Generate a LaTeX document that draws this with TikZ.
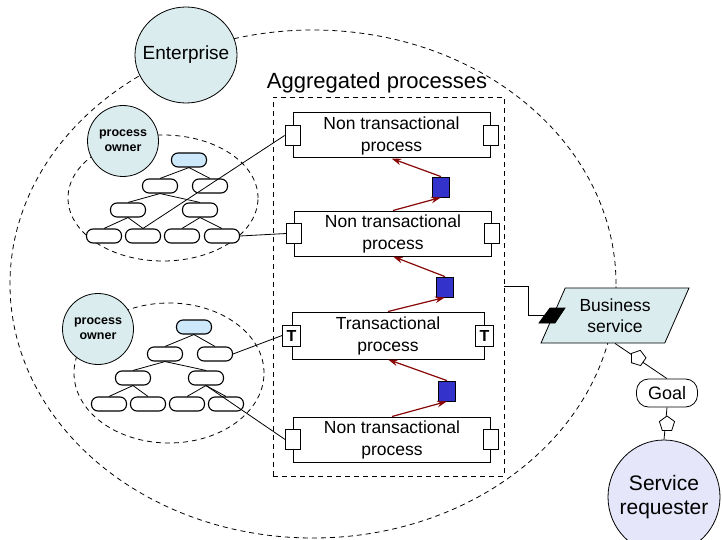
\documentclass[tikz,border=0pt]{standalone}
\usepackage{fontspec}
\setmainfont{Liberation Sans}
\usetikzlibrary{shapes.geometric,arrows.meta}
\definecolor{tealfill}{RGB}{218,236,238}
\definecolor{lavfill}{RGB}{230,230,250}
\definecolor{rootfill}{RGB}{204,232,250}
\definecolor{portblue}{RGB}{51,51,204}
\definecolor{flowred}{RGB}{135,5,5}

\tikzset{
  procbox/.style={draw, line width=1pt, minimum width=197pt, minimum height=45pt, align=center, inner sep=0pt, font=\fontsize{17.5}{22}\selectfont},
  port/.style={draw, fill=white, minimum width=15pt, minimum height=20pt, inner sep=0pt},
  tport/.style={port, minimum width=18pt, minimum height=21pt, font=\fontsize{16}{16}\selectfont\bfseries},
  sqr/.style={draw, fill=portblue, minimum width=17pt, minimum height=20pt, inner sep=0pt},
  leaf/.style={draw, fill=white, rounded corners=6.5pt, minimum width=35pt, minimum height=14pt, inner sep=0pt, line width=1.1pt},
  rootleaf/.style={leaf, fill=rootfill},
  owner/.style={circle, draw, fill=tealfill, minimum size=71pt, inner sep=0pt, align=center, font=\fontsize{12.5}{15}\selectfont\bfseries},
  flow/.style={draw=flowred, line width=1.2pt, -{Stealth[length=10pt,width=6.5pt]}},
  house/.style={regular polygon, regular polygon sides=5, draw, fill=white, minimum size=16pt, inner sep=0pt},
  zone/.style={dash pattern=on 5pt off 4pt},
}

\begin{document}
\begin{tikzpicture}[x=1pt, y=-1pt, line width=0.8pt]
\useasboundingbox (0,0) rectangle (722,540);
\clip (0,0) rectangle (722,540);

% enterprise
\draw[zone] (313,284) ellipse [x radius=303pt, y radius=254pt];
\node[ellipse, draw, fill=tealfill, minimum width=102pt, minimum height=96pt,
  label={[font=\fontsize{19}{22}\selectfont]center:Enterprise}] (ent) at (186,55) {};

% aggregated processes
\node[font=\fontsize{22}{26}\selectfont] (agglabel) at (377,83) {Aggregated processes};
\node[draw, zone, minimum width=231pt, minimum height=379pt] (agg) at (388.5,286.5) {};

\node[procbox] (b1) at (391.5,135.5) {Non transactional\\process};
\node[procbox] (b2) at (393,233.5) {Non transactional\\process};
\node[procbox, minimum width=192pt, minimum height=47pt] (b3) at (388,335.5) {Transactional\\process};
\node[procbox] (b4) at (392,439.5) {Non transactional\\process};

\node[port] (b1l) at (b1.west) {};
\node[port] (b1r) at (b1.east) {};
\node[port] (b2l) at (b2.west) {};
\node[port] (b2r) at (b2.east) {};
\node[tport] (b3l) at (b3.west) {T};
\node[tport] (b3r) at (b3.east) {T};
\node[port] (b4l) at (b4.west) {};
\node[port] (b4r) at (b4.east) {};

\node[sqr] (q1) at (441,187) {};
\node[sqr] (q2) at (445,287) {};
\node[sqr] (q3) at (447,391) {};
\draw[flow] (q1.north) -- (b1.south);
\draw[flow] (b2.north) -- (q1.south);
\draw[flow] (q2.north) -- (b2.south);
\draw[flow] (b3.north) -- (q2.south);
\draw[flow] (q3.north) -- (b3.south);
\draw[flow] (b4.north) -- (q3.south);

% first process owner
\draw[zone] (163,198) ellipse [x radius=95pt, y radius=63pt];
\node[owner] (own1) at (123,141) {process\\owner};
\node[rootleaf] (a0) at (189,160) {};
\node[leaf] (a1) at (160,186) {};
\node[leaf] (a2) at (210,186) {};
\node[leaf] (a3) at (128,210) {};
\node[leaf] (a4) at (200,210) {};
\node[leaf] (a5) at (104,236) {};
\node[leaf] (a6) at (143,236) {};
\node[leaf] (a7) at (182,236) {};
\node[leaf] (a8) at (222,236) {};
\foreach \p/\c in {a0/a1,a0/a2,a1/a3,a1/a4,a3/a5,a3/a6,a4/a7,a4/a8}
  \draw (\p.south) -- (\c.north);

% second process owner
\draw[zone] (169,373) ellipse [x radius=95pt, y radius=70pt];
\node[owner] (own2) at (98,329) {process\\owner};
\node[rootleaf] (c0) at (194,327) {};
\node[leaf] (c1) at (165,354) {};
\node[leaf] (c2) at (215,354) {};
\node[leaf] (c3) at (133,378) {};
\node[leaf] (c4) at (206,378) {};
\node[leaf] (c5) at (109,404) {};
\node[leaf] (c6) at (148,404) {};
\node[leaf] (c7) at (187,404) {};
\node[leaf] (c8) at (226,404) {};
\foreach \p/\c in {c0/c1,c0/c2,c1/c3,c1/c4,c3/c5,c3/c6,c4/c7,c4/c8}
  \draw (\p.south) -- (\c.north);

% links to the processes
\draw (b1l.west) -- (a6.north);
\draw (a8.east) -- (b2l.west);
\draw (c2.east) -- (b3l.west);
\draw (c4.south) -- (b4l.west);

% business service and requester
\node[trapezium, trapezium left angle=63, trapezium right angle=117, trapezium stretches=true, draw, fill=tealfill, minimum width=148pt, minimum height=55pt, align=center, inner sep=0pt, font=\fontsize{17.5}{21}\selectfont] (bs) at (615,315.5) {Business\\service};
\filldraw (539,323) -- (550,308) -- (565,308) -- (555,323) -- cycle;
\coordinate (bsp) at (545,315.5);
\draw (agg.east) -- ++(24,0) |- (bsp);

\node[draw, rounded corners=12pt, minimum width=61pt, minimum height=28pt, font=\fontsize{18}{20}\selectfont] (goal) at (667,393) {Goal};
\node[ellipse, draw, fill=lavfill, minimum width=112pt, minimum height=114pt,
  label={[align=center, font=\fontsize{21}{24}\selectfont]center:Service\\requester}] (sr) at (664,497) {};
\draw (bs.south) -- (goal.north);
\draw (goal.south) -- (sr.north);
\node[house, rotate=55] (h1) at (638,358) {};
\node[house] (h2) at (667,424) {};
\end{tikzpicture}
\end{document}
